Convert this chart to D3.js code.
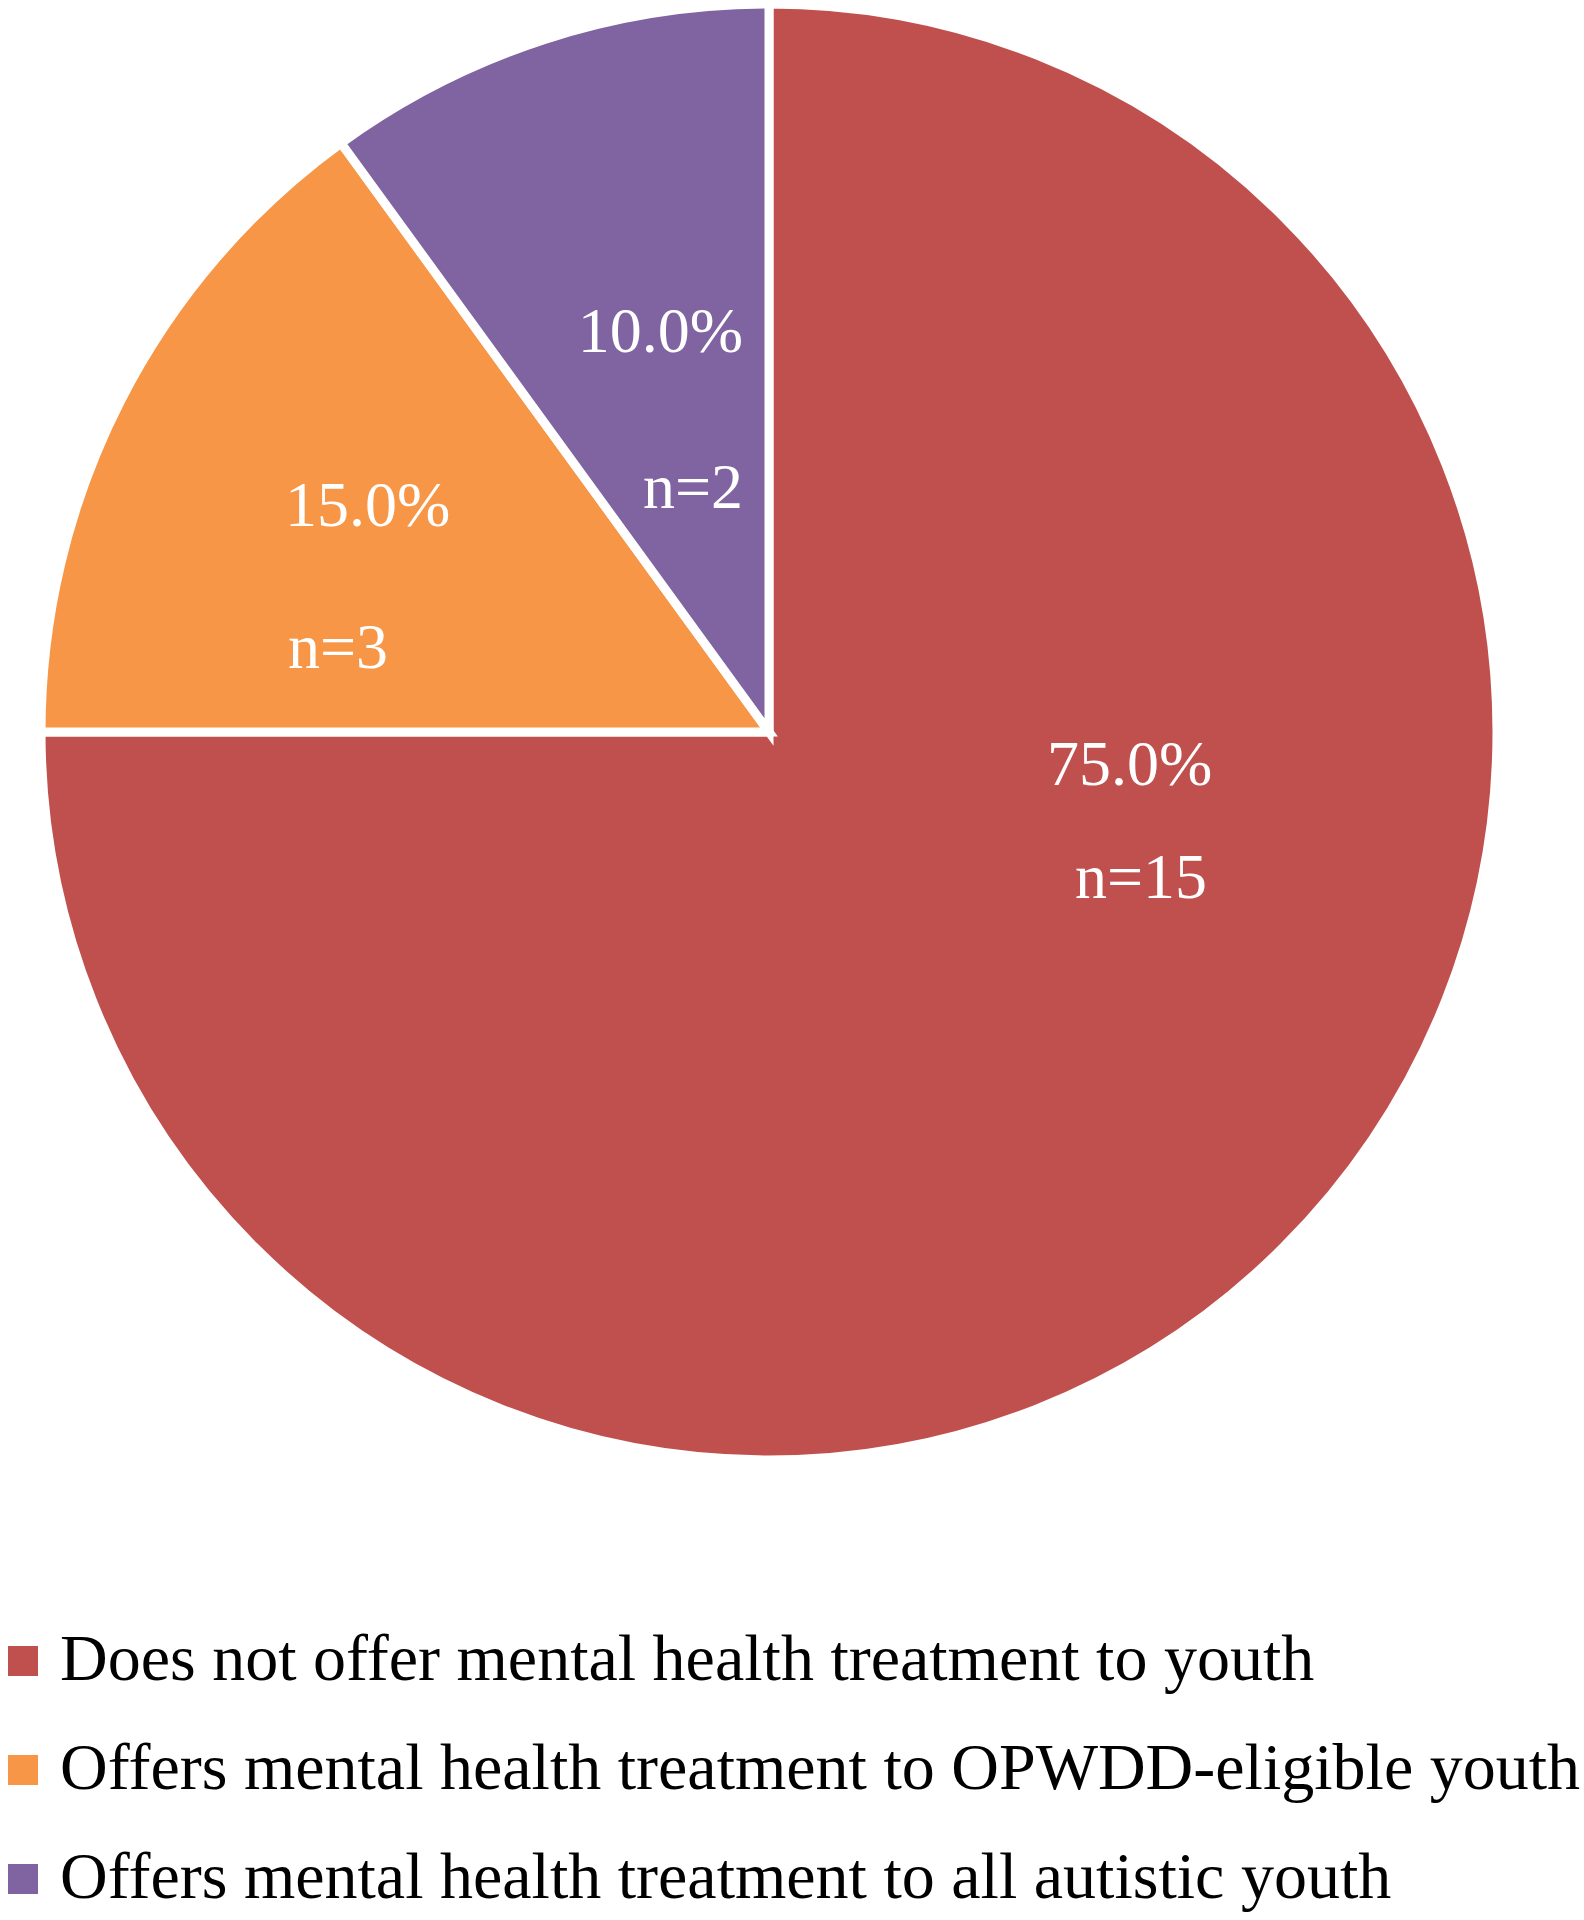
<!DOCTYPE html>
<html><head><meta charset="utf-8">
<script src="https://cdn.jsdelivr.net/npm/d3@7"></script>
<style>html,body{margin:0;padding:0;background:#fff;}svg{display:block;}</style>
</head><body>
<svg id="chart" width="1584" height="1920"></svg>
<script>
// ---- data ----
const categories = [
  "Does not offer mental health treatment to youth",
  "Offers mental health treatment to OPWDD-eligible youth",
  "Offers mental health treatment to all autistic youth"
];
const counts = [15, 3, 2];
const percentLabels = ["75.0%", "15.0%", "10.0%"];
const countLabels = ["n=15", "n=3", "n=2"];
const colors = ["#C0504D", "#F79646", "#8064A2"];

// ---- layout ----
const W = 1584, H = 1920;
const cx = 769, cy = 732, R = 728;
const font = "'Liberation Serif','Times New Roman',serif";
const svg = d3.select("#chart");

const pie = d3.pie().sort(null).value(d => d)(counts);
const arc = d3.arc().innerRadius(0).outerRadius(R);

const g = svg.append("g").attr("transform", `translate(${cx},${cy})`);
g.selectAll("path").data(pie).join("path")
  .attr("d", arc)
  .attr("fill", (d, i) => colors[i])
  .attr("stroke", "#fff")
  .attr("stroke-width", 9)
  .attr("stroke-linejoin", "miter");

// label placement (relative to pie center): per slice line offsets & anchor
const labelLayout = [
  {p: [278, 53, "start"], n: [306, 166, "start"]},
  {p: [-484, -206, "start"], n: [-481, -64, "start"]},
  {p: [-26, -380, "end"], n: [-26, -224, "end"]}
];
const lg = g.append("g").attr("fill", "#fff").style("font-family", font).style("font-size", "64px");
pie.forEach((d, i) => {
  const L = labelLayout[i];
  lg.append("text").attr("x", L.p[0]).attr("y", L.p[1]).attr("text-anchor", L.p[2]).text(percentLabels[i]);
  lg.append("text").attr("x", L.n[0]).attr("y", L.n[1]).attr("text-anchor", L.n[2]).text(countLabels[i]);
});

// legend
const ly = d3.scaleBand().domain(categories).range([1571, 1898]).paddingInner(0);
const leg = svg.append("g");
const items = leg.selectAll("g").data(categories).join("g")
  .attr("transform", (d) => `translate(0,${ly(d)})`);
items.append("rect").attr("x", 8).attr("y", 75).attr("width", 30).attr("height", 30)
  .attr("fill", (d, i) => colors[i]);
items.append("text").attr("x", 60).attr("y", 109)
  .style("font-family", font).style("font-size", "66px").attr("fill", "#000")
  .text(d => d);
</script>
</body></html>
